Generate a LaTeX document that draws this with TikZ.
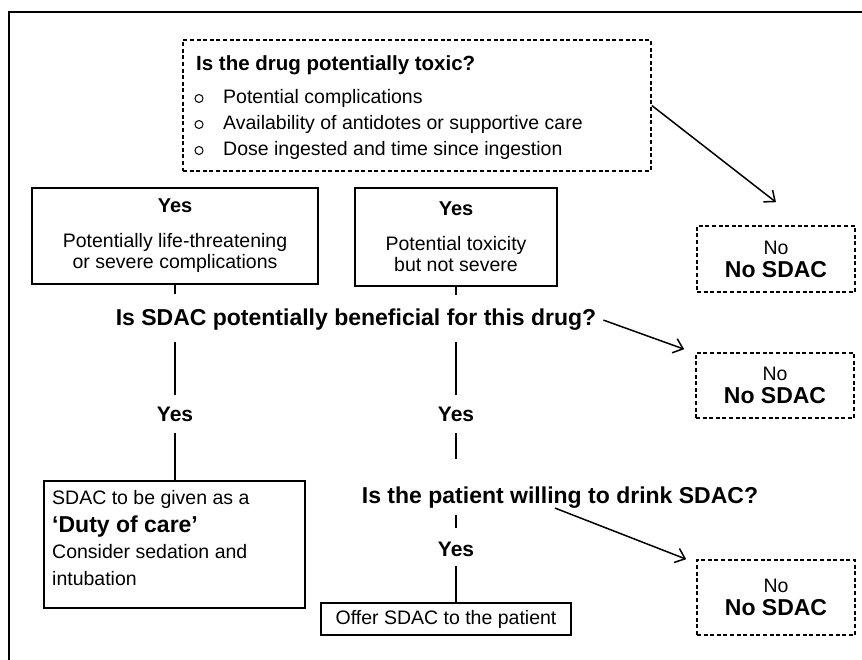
\documentclass[tikz,border=0pt]{standalone}
\usepackage{fontspec}
\setmainfont{Liberation Sans}
\usetikzlibrary{arrows.meta,positioning}

\newcommand{\bodysize}{\fontsize{19.5pt}{21pt}\selectfont}
\newcommand{\questsize}{\fontsize{23pt}{26pt}\selectfont\bfseries}
\newcommand{\toxsize}{\fontsize{20.5pt}{26pt}\selectfont\bfseries}
\newcommand{\yessize}{\fontsize{20pt}{21pt}\selectfont\bfseries}
\newcommand{\labelsize}{\fontsize{21pt}{24pt}\selectfont\bfseries}

\begin{document}
\begin{tikzpicture}[x=1pt,y=-1pt,
  >={Straight Barb[length=9pt,width=15pt]},
  solidbox/.style={draw,line width=1.5pt,inner sep=0pt,align=center,font=\bodysize},
  dashbox/.style={draw,line width=1.6pt,dash pattern=on 4pt off 2.6pt,inner sep=0pt,align=center,font=\bodysize},
  txt/.style={inner sep=0pt,font=\bodysize},
  quest/.style={inner sep=0pt,font=\questsize},
  yeslabel/.style={inner sep=0pt,font=\labelsize},
  bulletmark/.style={draw,circle,line width=1pt,minimum size=8pt,inner sep=0pt},
  link/.style={line width=1.5pt},
  arrow/.style={line width=1.5pt,->}]
  \useasboundingbox (0,0) rectangle (862,660);

  % Frame
  \draw[line width=2pt] (9,660) -- (9,12) -- (862,12);

  % Is the drug toxic?
  \node[dashbox,minimum width=468pt,minimum height=131pt] (toxbox) at (417,105.5) {};
  \node[inner sep=0pt,font=\toxsize,anchor=base west] (toxq) at (196,71) {Is the drug potentially toxic?};
  \node[bulletmark] (b1) at (199,98.5) {};
  \node[bulletmark] (b2) at (199,124.5) {};
  \node[bulletmark] (b3) at (199,150.5) {};
  \node[txt,anchor=base west] (c1) at (223,104) {Potential complications};
  \node[txt,anchor=base west] (c2) at (223,130) {Availability of antidotes or supportive care};
  \node[txt,anchor=base west] (c3) at (223,156) {Dose ingested and time since ingestion};

  % Yes answers
  \node[solidbox,minimum width=286pt,minimum height=96pt] (yes1) at (175,236)
    {{\yessize Yes}\\[14pt]Potentially life-threatening\\or severe complications};
  \node[solidbox,minimum width=202pt,minimum height=98pt] (yes2) at (456,237)
    {{\yessize Yes}\\[14pt]Potential toxicity\\but not severe};

  % No answers
  \node[dashbox,minimum width=158pt,minimum height=66pt] (no1) at (776,259)
    {No\\[2pt]{\questsize No SDAC}};
  \node[dashbox,minimum width=158pt,minimum height=65pt] (no2) at (775,385.5)
    {No\\[2pt]{\questsize No SDAC}};
  \node[dashbox,minimum width=158pt,minimum height=75pt] (no3) at (776,597.5)
    {No\\[2pt]{\questsize No SDAC}};

  % Questions
  \node[quest,anchor=base] (q1) at (356,326) {Is SDAC potentially beneficial for this drug?};
  \node[quest,anchor=base] (q2) at (560,503) {Is the patient willing to drink SDAC?};
  \node[yeslabel,anchor=base] (yesa) at (175,421) {Yes};
  \node[yeslabel,anchor=base] (yesb) at (456,421) {Yes};
  \node[yeslabel,anchor=base] (yesc) at (456,556) {Yes};

  % Outcomes
  \node[solidbox,minimum width=261pt,minimum height=127pt] (dutybox) at (174.5,544.5) {};
  \node[txt,anchor=base west] (d1) at (52,504) {SDAC to be given as a};
  \node[quest,anchor=base west] (d2) at (52,532) {`Duty of care'};
  \node[txt,anchor=base west] (d3) at (52,558) {Consider sedation and};
  \node[txt,anchor=base west] (d4) at (52,585) {intubation};
  \node[solidbox,minimum width=250pt,minimum height=32pt] (offerbox) at (446,619) {Offer SDAC to the patient};

  % Links
  \draw[link] (yes1.south) -- ++(0,9);
  \draw[link] (yes2.south) -- ++(0,8);
  \draw[link] (yesa.north) ++(0,-11) -- ++(0,-53);
  \draw[link] (yesb.north) ++(0,-11) -- ++(0,-53);
  \draw[link] (yesa.south) ++(0,11.6) -- (yesa.south |- dutybox.north);
  \draw[link] (yesb.south) ++(0,11.6) -- ++(0,26);
  \draw[link] (yesc.north) ++(0,-13) -- ++(0,-13);
  \draw[link] (yesc.south) ++(0,9.6) -- (yesc.south |- offerbox.north);

  % Arrows to No
  \draw[arrow] (toxbox.east) -- ([yshift=23pt]no1.north);
  \draw[arrow] ([xshift=7pt]q1.east) -- ([shift={(-11pt,3pt)}]no2.north west);
  \draw[arrow] ([xshift=-5pt]q2.south) -- ([xshift=-10pt]no3.north west);
\end{tikzpicture}
\end{document}
